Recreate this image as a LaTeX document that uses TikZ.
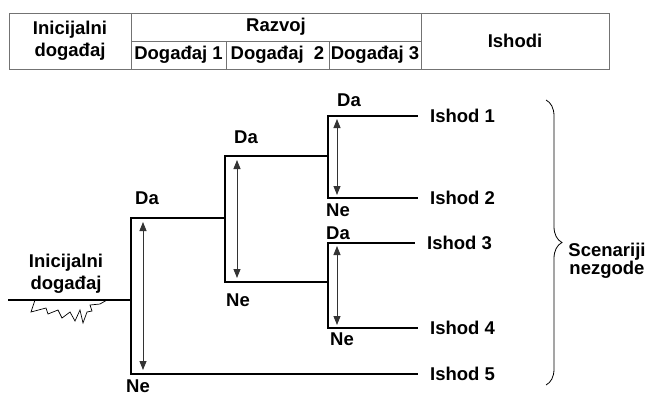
\documentclass[tikz,border=0pt]{standalone}
\usepackage{fontspec}
\setmainfont{Liberation Sans}
\usetikzlibrary{positioning,arrows.meta,decorations.pathreplacing}
\tikzset{
  eventtree/.style={x=1pt,y=-1pt,
    font=\bfseries\fontsize{18.5}{22}\selectfont},
  cell/.style={rectangle,draw=black!55,line width=0.8pt,inner sep=0pt,align=center},
  branch/.style={line width=1.6pt,line cap=rect},
  choice/.style={<->,>={Triangle[length=9pt,width=7pt]},draw=black!80,line width=0.8pt},
  outcome/.style={anchor=west,inner xsep=13pt,inner ysep=0pt},
  spark/.style={line width=0.7pt,line join=miter},
  scenbrace/.style={decorate,decoration={brace,amplitude=16pt},line width=0.8pt}
}
\begin{document}
\begin{tikzpicture}[eventtree]
  \useasboundingbox (0,0) rectangle (651,396);
  % table head
  \node[cell,minimum width=122pt,minimum height=56pt] (ini) at (70,41) {Inicijalni\\događaj};
  \node[cell,minimum width=290pt,minimum height=28pt] (razvoj) at (276,27) {Razvoj};
  \node[cell,minimum width=95pt,minimum height=28pt] (d1) at (178.5,55) {Događaj 1};
  \node[cell,minimum width=103pt,minimum height=28pt] (d2) at (277.5,55) {Događaj \ 2};
  \node[cell,minimum width=92pt,minimum height=28pt] (d3) at (375,55) {Događaj 3};
  \node[cell,minimum width=188pt,minimum height=56pt] (ishodi) at (515,41) {Ishodi};
  % branch points
  \coordinate (start) at (9,300);
  \coordinate (e1) at (131,300);
  \coordinate (e1da) at (131,218);
  \coordinate (e1ne) at (131,374);
  \coordinate (e2) at (225,218);
  \coordinate (e2da) at (225,156);
  \coordinate (e2ne) at (225,282);
  \coordinate (e3a) at (328,156);
  \coordinate (e3ada) at (328,116);
  \coordinate (e3ane) at (328,198);
  \coordinate (e3b) at (328,282);
  \coordinate (e3bda) at (328,243);
  \coordinate (e3bne) at (328,328);
  % outcomes
  \node[outcome] (o1) at (417,116) {Ishod 1};
  \node[outcome] (o2) at (417,198) {Ishod 2};
  \node[outcome] (o3) at (414,243) {Ishod 3};
  \node[outcome] (o4) at (417,328) {Ishod 4};
  \node[outcome] (o5) at (417,374) {Ishod 5};
  \draw[branch] (start) -- (e1);
  \draw[branch] (e2) -- (e1da) -- (e1ne) -- (o5.west);
  \draw[branch] (e3a) -- (e2da) -- (e2ne) -- (e3b);
  \draw[branch] (o1.west) -- (e3ada) -- (e3ane) -- (o2.west);
  \draw[branch] (o3.west) -- (e3bda) -- (e3bne) -- (o4.west);
  % yes/no arrows
  \coordinate (a1t) at (143,222);
  \coordinate (a1b) at (143,370);
  \coordinate (a2t) at (237,160);
  \coordinate (a2b) at (237,278);
  \coordinate (a3t) at (337,119);
  \coordinate (a3b) at (337,195);
  \coordinate (a4t) at (337,246);
  \coordinate (a4b) at (337,325);
  \draw[choice] (a1t) -- (a1b);
  \draw[choice] (a2t) -- (a2b);
  \draw[choice] (a3t) -- (a3b);
  \draw[choice] (a4t) -- (a4b);
  \node (da1) at (147,198) {Da};
  \node[inner ysep=1pt] (ne1) at (138,386) {Ne};
  \node (da2) at (246,137) {Da};
  \node (ne2) at (238,300) {Ne};
  \node (da3) at (349,100) {Da};
  \node (ne3) at (338,210) {Ne};
  \node (da4) at (338,233) {Da};
  \node (ne4) at (342,339) {Ne};
  % initiating event
  \node[align=center] (inilabel) at (66,274) {Inicijalni\\događaj};
  \draw[spark] (35,300) -- (31,312) -- (46,308) -- (48,314) -- (58,310) -- (62,318)
    -- (70,312) -- (75,321) -- (80,310) -- (83,323) -- (87,312) -- (92,311)
    -- (90,305) -- (100,304) -- (107,300);
  % scenarios
  \coordinate (bt) at (546,100);
  \coordinate (bb) at (546,385);
  \draw[scenbrace] (bt) -- (bb);
  \node[align=center,font=\bfseries\fontsize{18.5}{17}\selectfont] (scen) at (607,261) {Scenariji\\nezgode};
\end{tikzpicture}
\end{document}
